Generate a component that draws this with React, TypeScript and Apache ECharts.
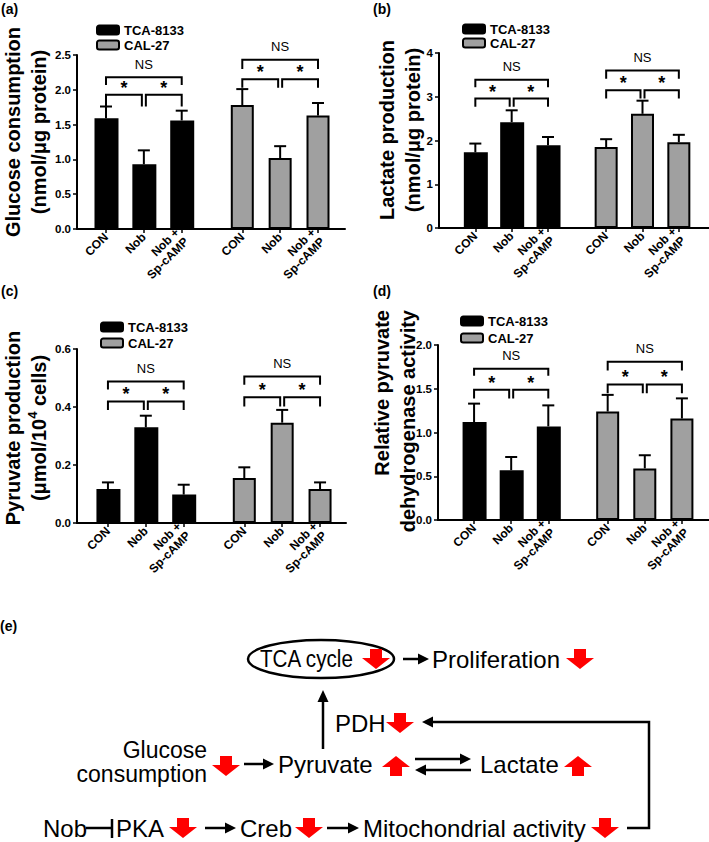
import React, { useEffect, useRef } from 'react';
import * as echarts from 'echarts';

// ---------- data ----------
const categories = ['CON', 'Nob', 'Nob +\nSp-cAMP', 'CON', 'Nob', 'Nob +\nSp-cAMP'];
const barPositions = [1, 2, 3, 4.6, 5.6, 6.6];
const cellLines = ['TCA-8133', 'CAL-27'];

const glucoseMean = [1.59, 0.93, 1.56, 1.78, 1.02, 1.63];
const glucoseSem = [0.17, 0.2, 0.14, 0.23, 0.17, 0.18];
const lactateMean = [1.73, 2.42, 1.89, 1.85, 2.61, 1.96];
const lactateSem = [0.2, 0.27, 0.19, 0.18, 0.3, 0.17];
const pyruvateMean = [0.117, 0.33, 0.098, 0.155, 0.346, 0.117];
const pyruvateSem = [0.023, 0.04, 0.034, 0.037, 0.044, 0.023];
const pdhMean = [1.12, 0.57, 1.07, 1.24, 0.59, 1.16];
const pdhSem = [0.21, 0.15, 0.24, 0.19, 0.15, 0.23];

// [from index, to index, bracket level, leg end, label]
const glucoseSig: any[] = [
  [0, 1, 1.93, 1.76, '*'], [1, 2, 1.93, 1.76, '*'], [0, 2, 2.18, 2.07, 'NS'],
  [3, 4, 2.15, 2.03, '*'], [4, 5, 2.15, 2.03, '*'], [3, 5, 2.43, 2.3, 'NS'],
];
const lactateSig: any[] = [
  [0, 1, 2.96, 2.77, '*'], [1, 2, 2.96, 2.77, '*'], [0, 2, 3.39, 3.22, 'NS'],
  [3, 4, 3.15, 2.96, '*'], [4, 5, 3.15, 2.96, '*'], [3, 5, 3.6, 3.41, 'NS'],
];
const pyruvateSig: any[] = [
  [0, 1, 0.419, 0.39, '*'], [1, 2, 0.419, 0.39, '*'], [0, 2, 0.488, 0.46, 'NS'],
  [3, 4, 0.434, 0.402, '*'], [4, 5, 0.434, 0.402, '*'], [3, 5, 0.505, 0.477, 'NS'],
];
const pdhSig: any[] = [
  [0, 1, 1.49, 1.39, '*'], [1, 2, 1.49, 1.39, '*'], [0, 2, 1.73, 1.65, 'NS'],
  [3, 4, 1.55, 1.45, '*'], [4, 5, 1.55, 1.45, '*'], [3, 5, 1.81, 1.71, 'NS'],
];

const yAxisMax = [2.5, 4, 0.6, 2.0];
const yAxisInterval = [0.5, 1, 0.2, 0.5];
const yAxisDecimals = [1, 0, 1, 1];

// ---------- layout ----------
const FONT = 'Liberation Sans';
const GRAY = '#a0a0a0';

const panels = [
  { mean: glucoseMean, sem: glucoseSem, sig: glucoseSig, grid: { left: 77, top: 55, width: 268, height: 174 }, xMin: 0.234, xMax: 7.313,
    legend: { left: 91, top: 18, itemGap: 1 } },
  { mean: lactateMean, sem: lactateSem, sig: lactateSig, grid: { left: 439, top: 53, width: 270, height: 175 }, xMin: 0, xMax: 7.43,
    legend: { left: 457, top: 17, itemGap: 0 } },
  { mean: pyruvateMean, sem: pyruvateSem, sig: pyruvateSig, grid: { left: 77, top: 349, width: 269, height: 174 }, xMin: 0.183, xMax: 7.285,
    legend: { left: 95, top: 315, itemGap: 2 } },
  { mean: pdhMean, sem: pdhSem, sig: pdhSig, grid: { left: 438, top: 345, width: 271, height: 175 }, xMin: 0.028, xMax: 7.33,
    legend: { left: 455, top: 309, itemGap: 3 } },
];

function makeBracketRender(sig: any[]) {
  return (params: any, api: any) => {
    const b = sig[params.dataIndex];
    const a = api.coord([api.value(0), api.value(2)]);
    const c = api.coord([api.value(1), api.value(2)]);
    const yLeg = api.coord([api.value(0), api.value(3)])[1];
    const x0 = a[0] + (b[0] % 3 === 1 ? 2 : 0);
    const x1 = c[0] - (b[1] % 3 === 1 ? 2 : 0);
    const yLine = a[1];
    const star = b[4] === '*';
    return {
      type: 'group',
      children: [
        {
          type: 'polyline',
          shape: { points: [[x0, yLeg], [x0, yLine], [x1, yLine], [x1, yLeg]] },
          style: { stroke: '#000', lineWidth: 2, fill: null },
        },
        {
          type: 'text',
          x: (x0 + x1) / 2,
          y: yLine - (star ? 7 : 13),
          style: {
            text: b[4], align: 'center', verticalAlign: 'middle',
            fontSize: star ? 18 : 13, fontWeight: star ? 'bold' : 'normal',
            fill: '#000', fontFamily: FONT,
          },
        },
      ],
    };
  };
}

function errRender(params: any, api: any) {
  const base = api.coord([api.value(0), api.value(1)]);
  const top = api.coord([api.value(0), api.value(2)]);
  return {
    type: 'group',
    children: [
      { type: 'line', shape: { x1: base[0], y1: base[1], x2: top[0], y2: top[1] }, style: { stroke: '#000', lineWidth: 2 } },
      { type: 'line', shape: { x1: top[0] - 6, y1: top[1], x2: top[0] + 6, y2: top[1] }, style: { stroke: '#000', lineWidth: 2 } },
    ],
  };
}

// ---------- diagram helpers ----------
function redArrow(cx: number, cy: number, up: boolean) {
  const s = up ? -1 : 1;
  const pts = [
    [cx - 6, cy - 10 * s], [cx + 6, cy - 10 * s], [cx + 6, cy - 1 * s], [cx + 14, cy - 1 * s],
    [cx, cy + 10 * s], [cx - 14, cy - 1 * s], [cx - 6, cy - 1 * s],
  ];
  return { type: 'polygon', shape: { points: pts }, style: { fill: '#ff0000' } };
}
function hArrow(x1: number, x2: number, y: number) {
  const d = x2 > x1 ? 1 : -1;
  return [
    { type: 'line', shape: { x1, y1: y, x2: x2 - 8 * d, y2: y }, style: { stroke: '#000', lineWidth: 2.5 } },
    { type: 'polygon', shape: { points: [[x2, y], [x2 - 11 * d, y - 5.5], [x2 - 11 * d, y + 5.5]] }, style: { fill: '#000' } },
  ];
}
function dtext(text: string, x: number, y: number, align = 'left', scaleX = 1, fontSize = 24) {
  return {
    type: 'text', x, y, scaleX,
    style: { text, fontSize, fontFamily: FONT, fill: '#000', align, verticalAlign: 'middle' },
  };
}

function buildDiagram() {
  const els: any[] = [];
  // TCA cycle ellipse
  els.push({ type: 'ellipse', shape: { cx: 321, cy: 659, rx: 73, ry: 19 }, style: { stroke: '#000', lineWidth: 2.5, fill: null } });
  els.push(dtext('TCA cycle', 260, 659, 'left', 0.86));
  els.push(redArrow(376, 659, false));
  els.push(...hArrow(403, 429, 659));
  els.push(dtext('Proliferation', 432, 659));
  els.push(redArrow(580, 659, false));
  // vertical arrow Pyruvate -> TCA
  els.push({ type: 'line', shape: { x1: 323, y1: 749, x2: 323, y2: 700 }, style: { stroke: '#000', lineWidth: 2.5 } });
  els.push({ type: 'polygon', shape: { points: [[323, 690], [317.5, 702], [328.5, 702]] }, style: { fill: '#000' } });
  els.push(dtext('PDH', 335, 723));
  els.push(redArrow(400, 723, false));
  // feedback line
  els.push({ type: 'polyline', shape: { points: [[627, 828], [649, 828], [649, 722], [430, 722]] }, style: { stroke: '#000', lineWidth: 2.5, fill: null } });
  els.push({ type: 'polygon', shape: { points: [[422, 722], [433, 716.5], [433, 727.5]] }, style: { fill: '#000' } });
  // middle row
  els.push(dtext('Glucose', 207, 750, 'right', 1, 23));
  els.push(dtext('consumption', 207, 774, 'right', 1, 23));
  els.push(redArrow(226, 766, false));
  els.push(...hArrow(244, 274, 764));
  els.push(dtext('Pyruvate', 278, 764));
  els.push(redArrow(396, 766, true));
  els.push(...hArrow(415, 471, 759));
  els.push(...hArrow(471, 415, 770));
  els.push(dtext('Lactate', 480, 764));
  els.push(redArrow(578, 766, true));
  // bottom row
  els.push(dtext('Nob', 43, 828));
  els.push({ type: 'line', shape: { x1: 86, y1: 828, x2: 112, y2: 828 }, style: { stroke: '#000', lineWidth: 2.5 } });
  els.push({ type: 'line', shape: { x1: 112, y1: 819, x2: 112, y2: 838 }, style: { stroke: '#000', lineWidth: 2.5 } });
  els.push(dtext('PKA', 116, 828));
  els.push(redArrow(183, 828, false));
  els.push(...hArrow(205, 236, 828));
  els.push(dtext('Creb', 240, 828));
  els.push(redArrow(309, 828, false));
  els.push(...hArrow(327, 359, 828));
  els.push(dtext('Mitochondrial activity', 363, 828));
  els.push(redArrow(605, 828, false));
  return els;
}

function titleText(text: string, x: number, y: number, align: string, rich?: any) {
  return {
    type: 'text', x, y, rotation: Math.PI / 2,
    style: {
      text, align, verticalAlign: 'middle', fontSize: 20, fontWeight: 'bold', lineHeight: 26,
      fontFamily: FONT, fill: '#000', rich,
    },
  };
}
function panelLabel(text: string, x: number, y: number) {
  return { type: 'text', x, y, style: { text, fontSize: 14, fontWeight: 'bold', fontFamily: FONT, fill: '#000', verticalAlign: 'middle' } };
}

function buildOption() {
  const grid: any[] = [];
  const xAxis: any[] = [];
  const yAxis: any[] = [];
  const series: any[] = [];
  const legend: any[] = [];

  panels.forEach((p, k) => {
    grid.push({ ...p.grid, containLabel: false });
    xAxis.push({
      type: 'value', gridIndex: k, min: p.xMin, max: p.xMax,
      axisLine: { show: true, onZero: false, lineStyle: { color: '#000', width: 2 } },
      axisTick: { show: true, customValues: barPositions, length: 4, lineStyle: { color: '#000', width: 1.5 } },
      axisLabel: {
        customValues: barPositions, rotate: 45, margin: 6, fontSize: 12, fontWeight: 'bold', lineHeight: 13,
        color: '#000', fontFamily: FONT,
        formatter: (v: number) => { const i = barPositions.indexOf(v); return i >= 0 ? categories[i] : ''; },
      },
      splitLine: { show: false },
    });
    const dec = yAxisDecimals[k];
    yAxis.push({
      type: 'value', gridIndex: k, min: 0, max: yAxisMax[k], interval: yAxisInterval[k],
      axisLine: { show: true, lineStyle: { color: '#000', width: 2 } },
      axisTick: { show: true, length: 4, lineStyle: { color: '#000', width: 1.5 } },
      axisLabel: { margin: 6, fontSize: 11.5, fontWeight: 'bold', color: '#000', fontFamily: FONT, formatter: (v: number) => v.toFixed(dec) },
      splitLine: { show: false },
    });
    const tcaData = p.mean.slice(0, 3).map((m, i) => [barPositions[i], m]);
    const calData = p.mean.slice(3).map((m, i) => [barPositions[i + 3], m]);
    series.push({
      type: 'bar', name: cellLines[0], xAxisIndex: k, yAxisIndex: k, data: tcaData, barWidth: 24, barGap: '-100%',
      itemStyle: { color: '#000', borderColor: '#000', borderWidth: 2 }, z: 2,
    });
    series.push({
      type: 'bar', name: cellLines[1], xAxisIndex: k, yAxisIndex: k, data: calData, barWidth: 23, barGap: '-100%',
      itemStyle: { color: GRAY, borderColor: '#000', borderWidth: 2 }, z: 2,
    });
    series.push({
      type: 'custom', xAxisIndex: k, yAxisIndex: k, renderItem: errRender, z: 3,
      data: p.mean.map((m, i) => [barPositions[i], m, m + p.sem[i]]),
      encode: { x: 0, y: [1, 2] },
    });
    series.push({
      type: 'custom', xAxisIndex: k, yAxisIndex: k, renderItem: makeBracketRender(p.sig), z: 3,
      data: p.sig.map((b: any[]) => [barPositions[b[0]], barPositions[b[1]], b[2], b[3]]),
      encode: { x: [0, 1], y: [2, 3] },
    });
    legend.push({
      data: cellLines, orient: 'vertical', left: p.legend.left, top: p.legend.top, itemGap: p.legend.itemGap,
      itemWidth: 22, itemHeight: 9, selectedMode: false,
      textStyle: { fontSize: 13, fontWeight: 'bold', color: '#000', fontFamily: FONT, lineHeight: 14 },
    });
  });

  const graphic: any[] = [
    panelLabel('(a)', 1, 9),
    panelLabel('(b)', 373, 9),
    panelLabel('(c)', 1, 291),
    panelLabel('(d)', 373, 291),
    panelLabel('(e)', 0, 626),
    titleText('Glucose consumption\n(nmol/μg protein)', 26, 132, 'center'),
    titleText('Lactate production\n(nmol/μg protein)', 400, 130, 'center'),
    titleText('Pyruvate production\n(μmol/10{sup|4} cells)', 26, 428, 'center', {
      sup: { fontSize: 13, fontWeight: 'bold', verticalAlign: 'top', lineHeight: 14, fontFamily: FONT },
    }),
    titleText('Relative pyruvate\ndehydrogenase activity', 395, 310, 'right'),
    ...buildDiagram(),
  ];

  return {
    animation: false,
    backgroundColor: '#fff',
    textStyle: { fontFamily: FONT },
    grid, xAxis, yAxis, series, legend, graphic,
  };
}

export default function App() {
  const ref = useRef<HTMLDivElement>(null);
  useEffect(() => {
    if (!ref.current) return;
    const chart = echarts.init(ref.current, null, { renderer: 'svg' });
    chart.setOption(buildOption() as any);
    return () => chart.dispose();
  }, []);
  return <div ref={ref} style={{ position: 'absolute', left: 0, top: 0, width: 709, height: 842, background: '#fff' }} />;
}
